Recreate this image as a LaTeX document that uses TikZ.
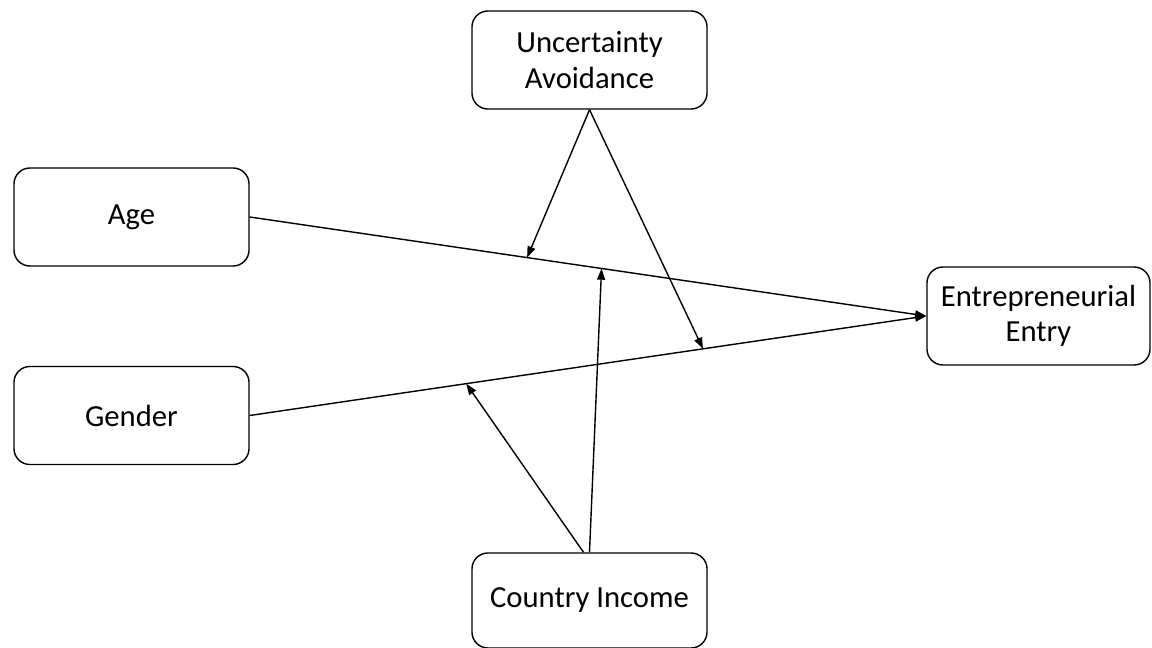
\documentclass[tikz,border=0pt]{standalone}
\usepackage{fontspec}
\setmainfont{Carlito}
\usetikzlibrary{arrows.meta}

\begin{document}
\begin{tikzpicture}[x=0.025cm, y=-0.025cm]
    \tikzset{
        box/.style={draw, rounded corners=0.4cm, line width=1pt, minimum width=5.875cm,
            minimum height=2.45cm, align=center, inner sep=0pt,
            font=\fontsize{21.8}{25}\selectfont},
        link/.style={line width=1pt, -{Triangle[length=0.28cm, width=0.2cm]}}
    }
    \useasboundingbox (0,0) rectangle (1152,648);
    \node[box] (ua) at (589.5,60) {Uncertainty\\Avoidance};
    \node[box] (age) at (131.5,217) {Age};
    \node[box] (gender) at (131.5,415.5) {Gender};
    \node[box, minimum width=5.575cm] (entry) at (1038.5,316) {Entrepreneurial\\Entry};
    \node[box, minimum height=2.375cm] (ci) at (589.5,600.5) {Country Income};
    \draw[link] (age.east) -- coordinate[pos=0.41] (a1) coordinate[pos=0.52] (a2) (entry.west);
    \draw[link] (gender.east) -- coordinate[pos=0.32] (g1) coordinate[pos=0.67] (g2) (entry.west);
    \draw[link] (ua.south) -- (a1);
    \draw[link] (ua.south) -- (g2);
    \draw[link] (ci.north) -- (a2);
    \draw[link] ([xshift=-0.15cm]ci.north) -- (g1);
\end{tikzpicture}
\end{document}
